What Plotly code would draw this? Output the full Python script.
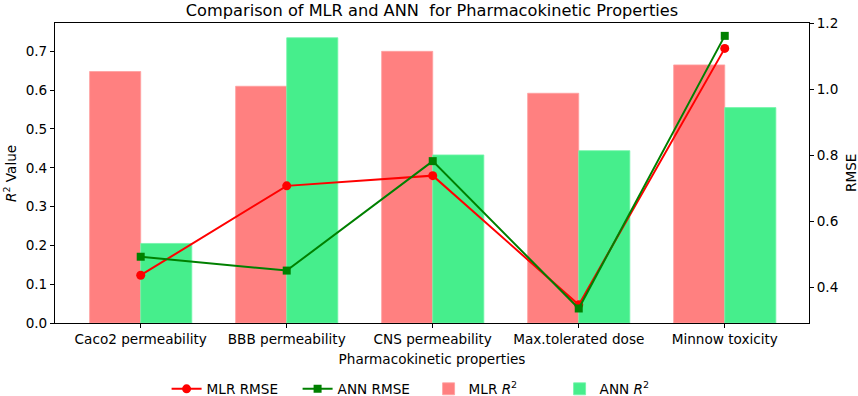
import plotly.graph_objects as go

categories = ["Caco2 permeability", "BBB permeability", "CNS permeability",
              "Max.tolerated dose", "Minnow toxicity"]
mlr_r2 = [0.648, 0.610, 0.700, 0.592, 0.665]
ann_r2 = [0.205, 0.735, 0.433, 0.444, 0.555]
mlr_rmse = [0.436, 0.707, 0.738, 0.346, 1.124]
ann_rmse = [0.492, 0.450, 0.782, 0.335, 1.162]

FONT = "DejaVu Sans"
FS = 13.6
fig = go.Figure()
fig.add_trace(go.Scatter(x=categories, y=mlr_rmse, name="MLR RMSE", yaxis="y2",
                         mode="lines+markers", line=dict(color="#ff0000", width=2),
                         marker=dict(symbol="circle", size=9, color="#ff0000")))
fig.add_trace(go.Scatter(x=categories, y=ann_rmse, name="ANN RMSE", yaxis="y2",
                         mode="lines+markers", line=dict(color="#008000", width=2),
                         marker=dict(symbol="square", size=8, color="#008000")))
fig.add_trace(go.Bar(x=categories, y=mlr_r2, name="MLR <i>R</i><sup>2</sup>",
                     marker=dict(color="#ff8080", line=dict(color="#ffa0a0", width=0.8))))
fig.add_trace(go.Bar(x=categories, y=ann_r2, name="ANN <i>R</i><sup>2</sup>",
                     marker=dict(color="#46ee8c", line=dict(color="#70f5a8", width=0.8))))

axis_common = dict(showline=True, linecolor="black", linewidth=1, ticks="outside",
                   ticklen=4, tickcolor="black", automargin=False,
                   tickfont=dict(size=FS, color="black", family=FONT),
                   showgrid=False, zeroline=False)
fig.update_layout(
    width=858, height=396,
    margin=dict(l=55, r=49, t=23, b=73, autoexpand=False),
    paper_bgcolor="white", plot_bgcolor="white",
    font=dict(family=FONT, size=FS, color="black"),
    barmode="group", bargap=0.3, bargroupgap=0,
    title=dict(text="Comparison of MLR and ANN  for Pharmacokinetic Properties",
               x=0.5, xref="paper", xanchor="center", y=0.975, yanchor="middle",
               font=dict(size=16.2, color="black", family=FONT)),
    xaxis=dict(**axis_common, range=[-0.587, 4.577], mirror=True,
               title=dict(text="Pharmacokinetic properties", standoff=8,
                          font=dict(size=FS, color="black", family=FONT))),
    yaxis=dict(**axis_common, range=[0, 0.773], dtick=0.1, tickformat=".1f"),
    yaxis2=dict(**axis_common, overlaying="y", side="right", range=[0.291, 1.201],
                dtick=0.2, tickformat=".1f"),
    legend=dict(orientation="h", x=0.148, xanchor="left", y=-0.22, yanchor="middle",
                yref="paper", entrywidth=86,
                font=dict(size=FS, color="black", family=FONT), bgcolor="rgba(0,0,0,0)"),
    annotations=[
        dict(text="<i>R</i><sup>2</sup> Value", xref="paper", yref="paper",
             x=-0.0597, y=0.5, xanchor="center", yanchor="middle", textangle=-90,
             showarrow=False, font=dict(size=FS, color="black", family=FONT)),
        dict(text="RMSE", xref="paper", yref="paper",
             x=1.0557, y=0.5, xanchor="center", yanchor="middle", textangle=-90,
             showarrow=False, font=dict(size=FS, color="black", family=FONT)),
    ],
)
fig.write_html("out.html", config={"displayModeBar": False},
               post_script="document.body.style.margin='0';")
